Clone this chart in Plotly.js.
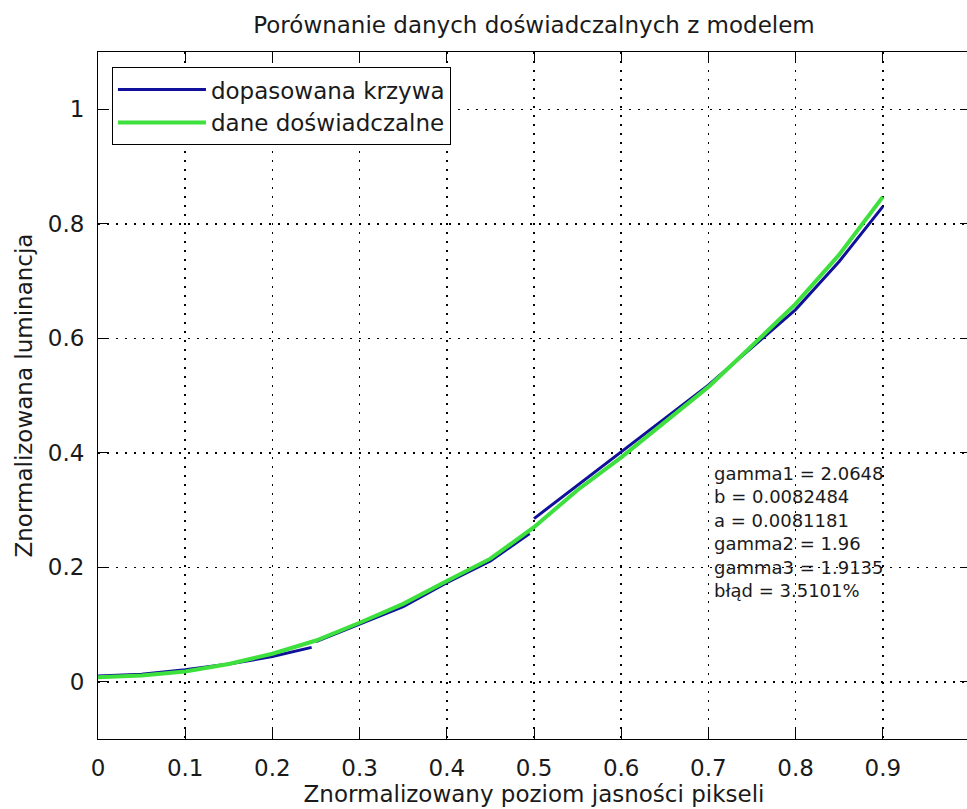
<!DOCTYPE html>
<html>
<head>
<meta charset="utf-8">
<script src="https://cdn.plot.ly/plotly-3.0.1.min.js"></script>
<style>
  html, body { margin: 0; padding: 0; overflow: hidden; background: #fff; }
  #chart { width: 970px; height: 809px; }
</style>
</head>
<body>
<div id="chart"></div>
<script>
// Experimental data (dane doświadczalne)
const dataX = [0, 0.05, 0.1, 0.15, 0.2, 0.25, 0.3, 0.35, 0.4, 0.45, 0.5, 0.55, 0.6, 0.65, 0.7, 0.75, 0.8, 0.85, 0.9];
const dataY = [0.008, 0.011, 0.018, 0.031, 0.049, 0.072, 0.103, 0.136, 0.176, 0.215, 0.270, 0.335, 0.392, 0.453, 0.515, 0.587, 0.660, 0.746, 0.847];

// Fitted curve (dopasowana krzywa) - three segments
const fitX1 = [0, 0.05, 0.1, 0.15, 0.2, 0.245];
const fitY1 = [0.010, 0.013, 0.021, 0.031, 0.044, 0.060];
const fitX2 = [0.25, 0.3, 0.35, 0.4, 0.45, 0.495];
const fitY2 = [0.070, 0.101, 0.131, 0.173, 0.211, 0.259];
const fitX3 = [0.5, 0.55, 0.6, 0.65, 0.7, 0.75, 0.8, 0.85, 0.9];
const fitY3 = [0.285, 0.343, 0.401, 0.460, 0.518, 0.584, 0.650, 0.734, 0.830];

const seriesNames = ['dopasowana krzywa', 'dane doświadczalne'];
const infoLines = [
  'gamma1 = 2.0648',
  'b = 0.0082484',
  'a = 0.0081181',
  'gamma2 = 1.96',
  'gamma3 = 1.9135',
  'błąd = 3.5101%'
];

const fitX = [].concat(fitX1, [null], fitX2, [null], fitX3);
const fitY = [].concat(fitY1, [null], fitY2, [null], fitY3);

const FONT = 'DejaVu Sans';
const TXT = '#1a1a1a';

const traces = [
  {
    x: fitX, y: fitY, mode: 'lines', name: seriesNames[0],
    connectgaps: false,
    line: { color: '#10109a', width: 3 }
  },
  {
    x: dataX, y: dataY, mode: 'lines', name: seriesNames[1],
    line: { color: '#3de03d', width: 4 }
  }
];

const axisCommon = {
  showline: true, linecolor: '#000', linewidth: 1, mirror: 'ticks',
  ticks: 'inside', ticklen: 10, tickcolor: '#000', tickwidth: 1,
  showgrid: true, gridcolor: '#000', gridwidth: 1.5, griddash: '1.5px,7.5px',
  zeroline: false,
  tickfont: { family: FONT, size: 23, color: TXT }
};

const layout = {
  width: 970, height: 809,
  margin: { l: 98, r: 0, t: 52, b: 70 },
  paper_bgcolor: '#fff', plot_bgcolor: '#fff',
  title: {
    text: 'Porównanie danych doświadczalnych z modelem',
    font: { family: FONT, size: 23, color: TXT },
    x: 0.5, xref: 'paper', xanchor: 'center',
    y: 1 - 25 / 809, yref: 'container', yanchor: 'middle'
  },
  xaxis: Object.assign({}, axisCommon, {
    range: [0, 1], tick0: 0, dtick: 0.1,
    ticklabelstandoff: 8,
    title: { text: 'Znormalizowany poziom jasności pikseli', font: { family: FONT, size: 23, color: TXT }, standoff: 6 }
  }),
  yaxis: Object.assign({}, axisCommon, {
    range: [-0.1, 1.1], tick0: 0, dtick: 0.2,
    ticklabelstandoff: 8,
    title: { text: 'Znormalizowana luminancja', font: { family: FONT, size: 23, color: TXT }, standoff: 8 }
  }),
  legend: {
    x: 0.016, y: 0.978, xanchor: 'left', yanchor: 'top',
    bgcolor: '#fff', bordercolor: '#000', borderwidth: 1,
    font: { family: FONT, size: 23, color: TXT },
    itemwidth: 88,
    tracegroupgap: 0
  },
  showlegend: true,
  annotations: [{
    x: 0.705, y: 0.383, xref: 'x', yref: 'y',
    text: infoLines.join('<br>'), showarrow: false,
    xanchor: 'left', yanchor: 'top', align: 'left', borderpad: 0,
    font: { family: FONT, size: 18, color: TXT }
  }]
};

Plotly.newPlot('chart', traces, layout, { displayModeBar: false, staticPlot: true });
</script>
</body>
</html>
